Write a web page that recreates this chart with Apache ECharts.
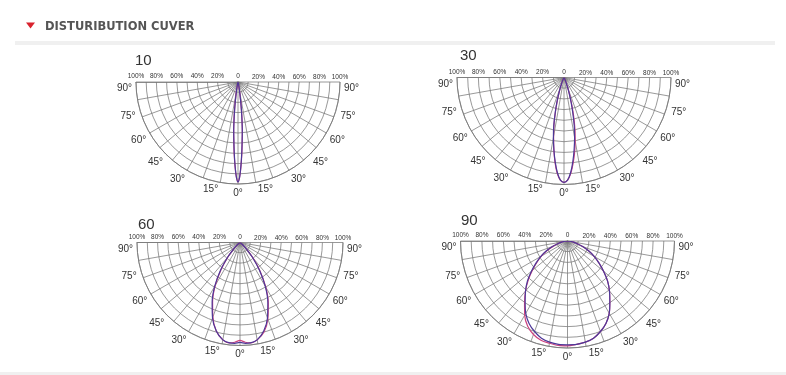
<!DOCTYPE html>
<html><head><meta charset="utf-8">
<script src="https://cdn.jsdelivr.net/npm/echarts@6/dist/echarts.min.js"></script>
<style>html,body{margin:0;padding:0;background:#fff}#c{width:786px;height:375px}</style>
</head><body><div id="c"></div>
<script>
// ---- data ----
const headerText = 'DISTURIBUTION CUVER';
const chartTitles = ['10', '30', '60', '90'];

const ang10 = [-20,-15,-12,-10,-8,-7,-6,-5,-4,-3,-2,-1,0,1,2,3,4,5,6,7,8,10,12,15,20];
const c0_10  = [0,1,3,8,18,27,37,48,58,70,82,93,98,93,82,70,58,48,37,27,18,8,3,1,0];
const c90_10 = [0,1,3,8,19,28,38,49,59,71,83,93,98,93,83,71,59,49,38,28,19,8,3,1,0];

const ang30 = [-40,-30,-25,-22,-20,-18,-16,-14,-12,-10,-8,-6,-4,-2,0,2,4,6,8,10,12,14,16,18,20,22,25,30,40];
const c0_30  = [0,1,3,6,10,16,24,34,46,57,68,79,89,96,98,96,89,79,68,57,46,34,24,16,10,6,3,1,0];
const c90_30 = [0,1,3,6,9,15,23,33,45,56,68,80,90,96,98,96,90,81,71,60,49,37,26,17,11,6,3,1,0];

const ang60 = [-60,-50,-45,-40,-35,-30,-25,-20,-15,-10,-6,-3,0,3,6,10,15,20,25,30,35,40,45,50,60];
const c0_60  = [0,3,9,19,33,49,64,78,89,96,98,98,97,98,98,96,89,78,64,49,33,19,9,3,0];
const c90_60 = [0,3,8,18,32,48,63,77,89,96,98,97,95,97,98,96,90,79,65,50,34,20,9,3,0];

const ang90 = [-90,-85,-80,-75,-70,-65,-60,-55,-50,-45,-40,-35,-30,-25,-20,-15,-10,-5,0,5,10,15,20,25,30,35,40,45,50,55,60,65,70,75,80,85,90];
const c0_90  = [0,2,5,9,15,22,29,36,44,53,61,69,78,85,90,94,96,97,97,97,96,94,90,85,78,69,61,53,44,36,29,22,15,9,5,2,0];
const c90_90 = [0,2,5,9,14,21,28,35,43,52,61,70,80,88,93,96,97,98,98,97,96,94,90,85,78,69,61,53,44,36,29,22,15,9,5,2,0];

const ringTicks = [0, 20, 40, 60, 80, 100];
const ringTickLabels = ['0', '20%', '40%', '60%', '80%', '100%'];
const angleTicks = [0, 15, 30, 45, 60, 75, 90];
const angleTickLabels = ['0°', '15°', '30°', '45°', '60°', '75°', '90°'];

const charts = [
  {ang: ang10, a: c0_10, b: c90_10},
  {ang: ang30, a: c0_30, b: c90_30},
  {ang: ang60, a: c0_60, b: c90_60},
  {ang: ang90, a: c0_90, b: c90_90}
];

// ---- layout / style ----
const layouts = [
  {cx: 238, cy: 82, r: 102, tx: 135, ty: 53},
  {cx: 564, cy: 77.5, r: 107, tx: 460, ty: 48},
  {cx: 240, cy: 242.5, r: 103, tx: 138, ty: 217},
  {cx: 567.5, cy: 241, r: 107, tx: 461, ty: 213.5}
];
const gridColor = '#777';
const textColor = '#333';
const colorA = '#4d3898';
const colorB = '#cc4480';

const polar = [], angleAxis = [], radiusAxis = [], series = [], title = [];

function ringLabel(v, withZero) {
  const i = ringTicks.indexOf(Math.round(v));
  if (i < 0) return '';
  if (i === 0 && !withZero) return '';
  return ringTickLabels[i];
}
function angleLabel(v) {
  const a = Math.abs(Math.round(v));
  const i = angleTicks.indexOf(a);
  if (i < 0) return '';
  return a >= 75 ? '{m|' + angleTickLabels[i] + '}' : angleTickLabels[i];
}

layouts.forEach((L, i) => {
  const pa = 2 * i, pb = 2 * i + 1;
  polar.push({center: [L.cx, L.cy], radius: L.r});
  polar.push({center: [L.cx, L.cy], radius: L.r});
  // polar A: spokes, rings, left-side ring labels, curves
  angleAxis.push({
    polarIndex: pa, type: 'value', min: -90, max: 90, interval: 10,
    startAngle: 180, endAngle: 360, clockwise: false,
    axisLine: {show: true, lineStyle: {color: gridColor, width: 0.8}},
    axisTick: {show: false}, axisLabel: {show: false},
    splitLine: {show: true, lineStyle: {color: gridColor, width: 0.75, type: 'solid'}},
    splitArea: {show: false}
  });
  radiusAxis.push({
    polarIndex: pa, type: 'value', min: 0, max: 100, interval: 10,
    axisLine: {show: true, lineStyle: {color: gridColor, width: 0.8}},
    axisTick: {show: false},
    axisLabel: {show: true, margin: -9, fontSize: 6.5, color: textColor, fontFamily: 'Liberation Sans',
      showMinLabel: true, showMaxLabel: true, hideOverlap: false,
      formatter: v => ringLabel(v, true)},
    splitLine: {show: true, lineStyle: {color: gridColor, width: 0.75, type: 'solid'}},
    splitArea: {show: false}
  });
  // polar B: angle labels, right-side ring labels
  angleAxis.push({
    polarIndex: pb, type: 'value', min: -90, max: 90, interval: 15,
    startAngle: 0, endAngle: -180, clockwise: true,
    axisLine: {show: false}, axisTick: {show: false},
    axisLabel: {show: true, margin: 4, fontSize: 10, color: textColor, fontFamily: 'Liberation Sans',
      showMinLabel: true, showMaxLabel: true, hideOverlap: false,
      formatter: angleLabel,
      rich: {m: {fontSize: 10, color: textColor, fontFamily: 'Liberation Sans', padding: [13, 0, 0, 0]}}},
    splitLine: {show: false}, splitArea: {show: false}
  });
  radiusAxis.push({
    polarIndex: pb, type: 'value', min: 0, max: 100, interval: 10,
    axisLine: {show: false}, axisTick: {show: false},
    axisLabel: {show: true, margin: 1, fontSize: 6.5, color: textColor, fontFamily: 'Liberation Sans',
      showMinLabel: true, showMaxLabel: true, hideOverlap: false,
      formatter: v => ringLabel(v, false)},
    splitLine: {show: false}, splitArea: {show: false}
  });
  const C = charts[i];
  [[C.b, colorB], [C.a, colorA]].forEach(([vals, col]) => {
    series.push({
      type: 'line', coordinateSystem: 'polar', polarIndex: pa,
      data: C.ang.map((a, k) => [vals[k], a]),
      showSymbol: false, symbol: 'none', smooth: 0.3,
      lineStyle: {color: col, width: 1.2}, itemStyle: {color: col},
      z: 5, silent: true, animation: false
    });
  });
  title.push({text: chartTitles[i], left: L.tx, top: L.ty, padding: 0,
    textStyle: {fontSize: 15, fontWeight: 'normal', color: textColor, fontFamily: 'Liberation Sans'}});
});

title.push({text: headerText, left: 45, top: 21, padding: 0,
  textStyle: {fontSize: 11.5, fontWeight: 'bold', color: '#555', fontFamily: 'DejaVu Sans'}});

const chart = echarts.init(document.getElementById('c'), null, {renderer: 'canvas'});
chart.setOption({
  backgroundColor: '#fff',
  animation: false,
  title, polar, angleAxis, radiusAxis, series,
  graphic: [
    {type: 'polygon', shape: {points: [[26, 22.5], [35, 22.5], [30.5, 28.5]]}, style: {fill: '#d9232e'}},
    {type: 'rect', shape: {x: 15, y: 41, width: 760, height: 4}, style: {fill: '#f0f0f0'}},
    {type: 'rect', shape: {x: 0, y: 372, width: 786, height: 3}, style: {fill: '#f0f0f0'}}
  ]
});
</script></body></html>
